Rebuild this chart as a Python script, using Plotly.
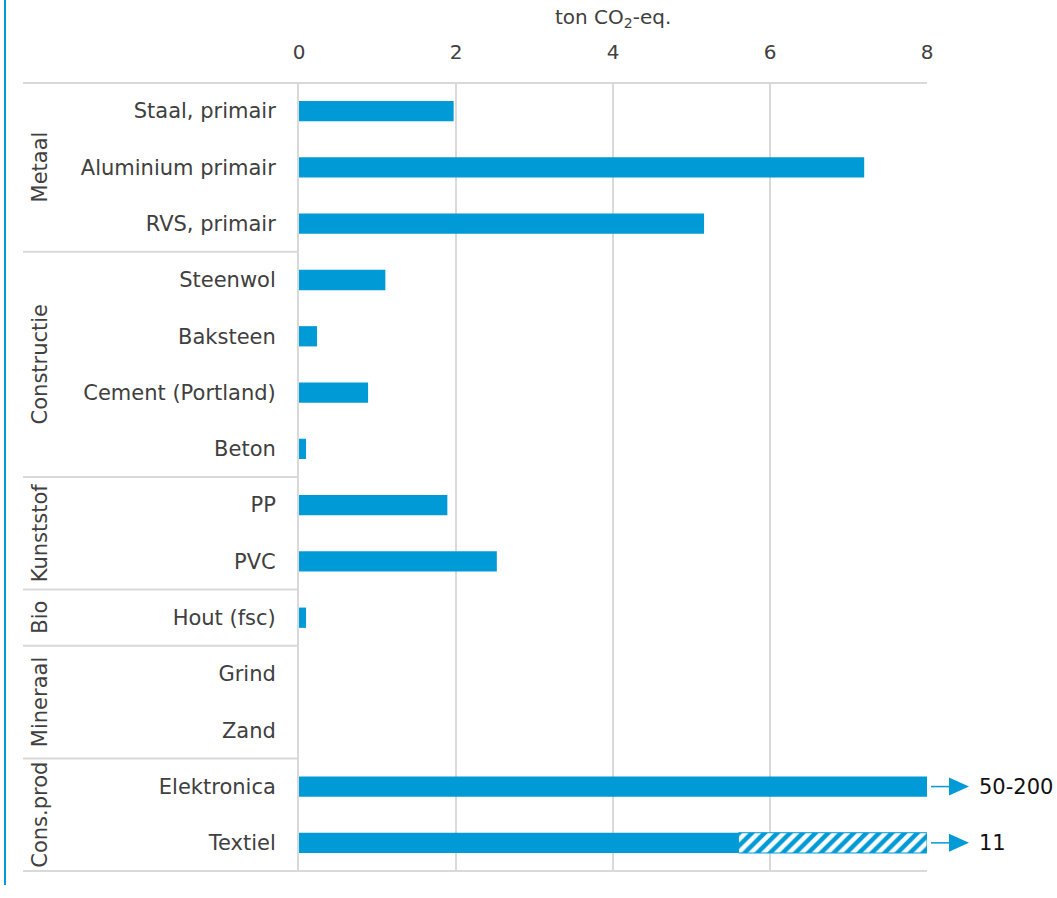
import plotly.graph_objects as go

# ---- data ----
categories = ["Staal, primair", "Aluminium primair", "RVS, primair",
              "Steenwol", "Baksteen", "Cement (Portland)", "Beton",
              "PP", "PVC", "Hout (fsc)", "Grind", "Zand",
              "Elektronica", "Textiel"]
values = [1.97, 7.2, 5.16, 1.1, 0.23, 0.88, 0.09, 1.89, 2.52, 0.09, 0, 0, 8, 5.6]
hatched_category = ["Textiel"]
hatched_base = [5.6]
hatched_length = [2.4]
overflow_categories = ["Elektronica", "Textiel"]
overflow_labels = ["50-200", "11"]
groups = ["Metaal", "Constructie", "Kunststof", "Bio", "Mineraal", "Cons.prod"]
group_sizes = [3, 4, 2, 1, 2, 2]
x_ticks = [0, 2, 4, 6, 8]

BLUE = "#009ad6"
GRID = "#d9d9d9"
TXT = "#404040"
FONT = "DejaVu Sans"

W, H = 1057, 898
L, R, T, B = 299, 130, 83, 27
pw = W - L - R
ph = H - T - B
n = len(categories)

def ypaper(cat):
    i = categories.index(cat)
    return 1 - (i + 0.5) / n

fig = go.Figure()
fig.add_trace(go.Bar(y=categories, x=values, orientation="h", width=0.36,
                     marker=dict(color=BLUE, line=dict(width=0)), showlegend=False))
fig.add_trace(go.Bar(y=hatched_category, x=hatched_length, base=hatched_base,
                     orientation="h", width=0.36,
                     marker=dict(color=BLUE, line=dict(color=BLUE, width=1),
                                 pattern=dict(shape="/", fgcolor="white", fgopacity=1,
                                              fillmode="overlay", size=9, solidity=0.5)),
                     showlegend=False))

shapes = []
annotations = []
# overflow arrows + labels (paper coordinates, right of the plot)
for c, lab in zip(overflow_categories, overflow_labels):
    yp = ypaper(c)
    x0 = 1 + 4 / pw
    x1 = 1 + 24 / pw
    xt = 1 + 42 / pw
    hh = 9 / ph
    shapes.append(dict(type="line", xref="paper", yref="paper", x0=x0, x1=x1, y0=yp, y1=yp,
                       line=dict(color=BLUE, width=1.5)))
    shapes.append(dict(type="path", xref="paper", yref="paper",
                       path=f"M {1 + 22 / pw},{yp - hh} L {xt},{yp} L {1 + 22 / pw},{yp + hh} Z",
                       fillcolor=BLUE, line=dict(color=BLUE, width=0)))
    annotations.append(dict(x=1 + 50 / pw, y=yp, xref="paper", yref="paper", text=lab,
                            showarrow=False, xanchor="left", yanchor="middle",
                            font=dict(family=FONT, size=21, color="#111111")))

# group labels and separators
xl = (23 - L) / pw
start = 0
bounds = [-0.5]
for g, k in zip(groups, group_sizes):
    mid = start + (k - 1) / 2
    annotations.append(dict(x=(40 - L) / pw, y=1 - (mid + 0.5) / n, xref="paper", yref="paper",
                            text=g, textangle=-90, showarrow=False, xanchor="center",
                            yanchor="middle", font=dict(family=FONT, size=21, color=TXT)))
    start += k
    bounds.append(start - 0.5)
for i, b in enumerate(bounds):
    x1 = 1 if i in (0, len(bounds) - 1) else 0
    yp = 1 - (b + 0.5) / n
    shapes.append(dict(type="line", xref="paper", yref="paper", x0=xl, x1=x1, y0=yp, y1=yp,
                       line=dict(color=GRID, width=2), layer="below"))
# left blue border
shapes.append(dict(type="line", xref="paper", yref="paper", x0=(5 - L) / pw, x1=(5 - L) / pw,
                   y0=-(B - 13) / ph, y1=1 + T / ph, line=dict(color=BLUE, width=2)))

annotations.append(dict(x=0.5, y=1 + (T - 18) / ph, xref="paper", yref="paper",
                        text="ton CO<sub>2</sub>-eq.", showarrow=False, yanchor="middle",
                        font=dict(family=FONT, size=20, color=TXT)))

fig.update_layout(
    width=W, height=H, margin=dict(l=L, r=R, t=T, b=B, autoexpand=False),
    paper_bgcolor="white", plot_bgcolor="white", barmode="overlay",
    shapes=shapes, annotations=annotations,
    font=dict(family=FONT, size=21, color=TXT),
)
fig.update_xaxes(side="top", range=[0, 8], tickvals=x_ticks, ticktext=[str(t) for t in x_ticks],
                 showgrid=True, gridcolor=GRID, gridwidth=2, zeroline=False, showline=False,
                 tickfont=dict(family=FONT, size=20, color=TXT), ticks="", ticklabelstandoff=19)
fig.update_yaxes(categoryorder="array", categoryarray=categories, range=[n - 0.5, -0.5],
                 showgrid=False, showline=True, linecolor=GRID, linewidth=2, ticks="",
                 tickfont=dict(family=FONT, size=21, color=TXT), ticklabelstandoff=17)

fig.write_html("out.html")
